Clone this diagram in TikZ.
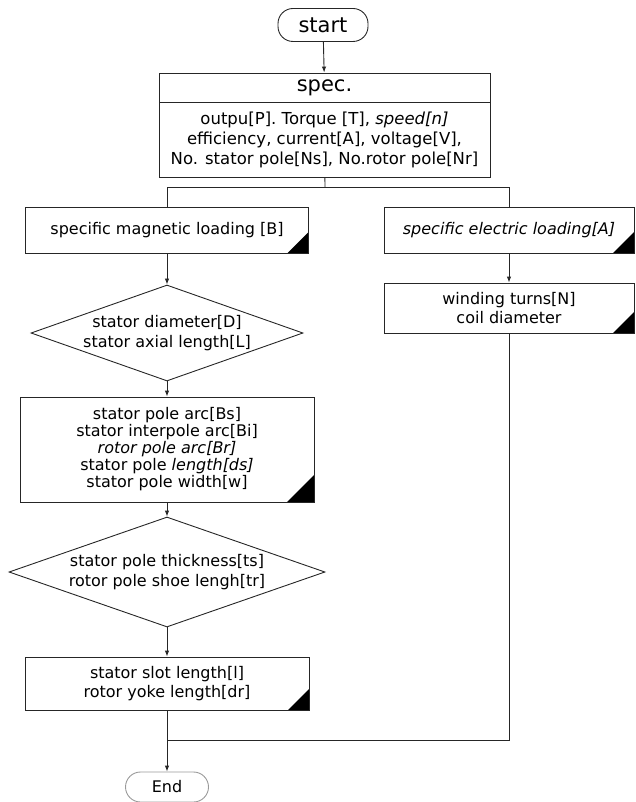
\documentclass[tikz,border=0pt]{standalone}
\usepackage{fontspec}
\setmainfont{DejaVu Sans}
\usetikzlibrary{shapes.geometric,arrows.meta}

\tikzset{
  flowline/.style={line width=0.9pt, draw=black!85},
  arr/.style={flowline, -{Latex[length=6pt,width=4.5pt]}},
  txt/.style={font=\fontsize{16}{19.5}\selectfont, align=center},
  terminal/.style={draw=black!85, line width=0.9pt, rounded corners=15pt, align=center, inner sep=0pt},
  procbox/.style={draw=black!85, line width=0.9pt, txt, inner sep=0pt},
  cornerbox/.style={procbox, path picture={\fill (path picture bounding box.south east) -- ++(-#1,0pt) -- ++(#1,#1) -- cycle;}},
  cornerbox/.default=21pt,
  decision/.style={diamond, draw=black!85, line width=0.9pt, txt, inner sep=0pt}
}

\begin{document}
\begin{tikzpicture}[x=1pt, y=-1pt]
  \useasboundingbox (0, 0) rectangle (635, 802);

  % top part
  \node[terminal, minimum width=90pt, minimum height=33pt, font=\fontsize{21}{24}\selectfont] (start) at (323, 25) {start};
  \node[procbox, minimum width=331pt, minimum height=29pt, font=\fontsize{21}{24}\selectfont] (spechead) at (324.5, 87.5) {spec.};
  \node[procbox, minimum width=331pt, minimum height=75pt, font=\fontsize{16.5}{20}\selectfont] (specbody) at (324.5, 139.5)
    {outpu[P]. Torque [T], \textit{speed[n]}\\efficiency, current[A], voltage[V],\\No. stator pole[Ns], No.rotor pole[Nr]};

  % left branch
  \node[cornerbox, minimum width=283pt, minimum height=46pt] (mag) at (167, 230) {specific magnetic loading [B]};
  \node[decision, minimum width=272pt, minimum height=96pt, shape aspect=2.83] (dia1) at (167, 333)
    {stator diameter[D]\\stator axial length[L]};
  \node[cornerbox=27pt, minimum width=294pt, minimum height=105pt, font=\fontsize{16}{17}\selectfont] (pole) at (167, 449.5)
    {stator pole arc[Bs]\\stator interpole arc[Bi]\\\textit{rotor pole arc[Br]}\\stator pole \textit{length[ds]}\\stator pole width[w]};
  \node[decision, minimum width=316pt, minimum height=110pt, shape aspect=2.87] (dia2) at (167, 572)
    {stator pole thickness[ts]\\rotor pole shoe lengh[tr]};
  \node[cornerbox, minimum width=284pt, minimum height=53pt] (slot) at (167, 683.5)
    {stator slot length[l]\\rotor yoke length[dr]};

  % right branch
  \node[cornerbox, minimum width=250pt, minimum height=46pt] (elec) at (509, 230) {\textit{specific electric loading[A]}};
  \node[cornerbox, minimum width=250pt, minimum height=50pt] (wind) at (509, 308)
    {winding turns[N]\\coil diameter};

  \node[terminal, draw=black!40, minimum width=83pt, minimum height=30pt, txt] (End) at (167, 787) {End};

  \coordinate (split) at (325, 187);
  \coordinate (merge) at (167, 740);

  \draw[arr] (start) -- (spechead);
  \draw[flowline] (specbody) -- (split);
  \draw[flowline] (split) -| (mag);
  \draw[flowline] (split) -| (elec);
  \draw[arr] (mag) -- (dia1);
  \draw[arr] (dia1) -- (pole);
  \draw[arr] (pole) -- (dia2);
  \draw[arr] (dia2) -- (slot);
  \draw[arr] (elec) -- (wind);
  \draw[flowline] (wind) |- (merge);
  \draw[arr] (slot) -- (End);
\end{tikzpicture}
\end{document}
